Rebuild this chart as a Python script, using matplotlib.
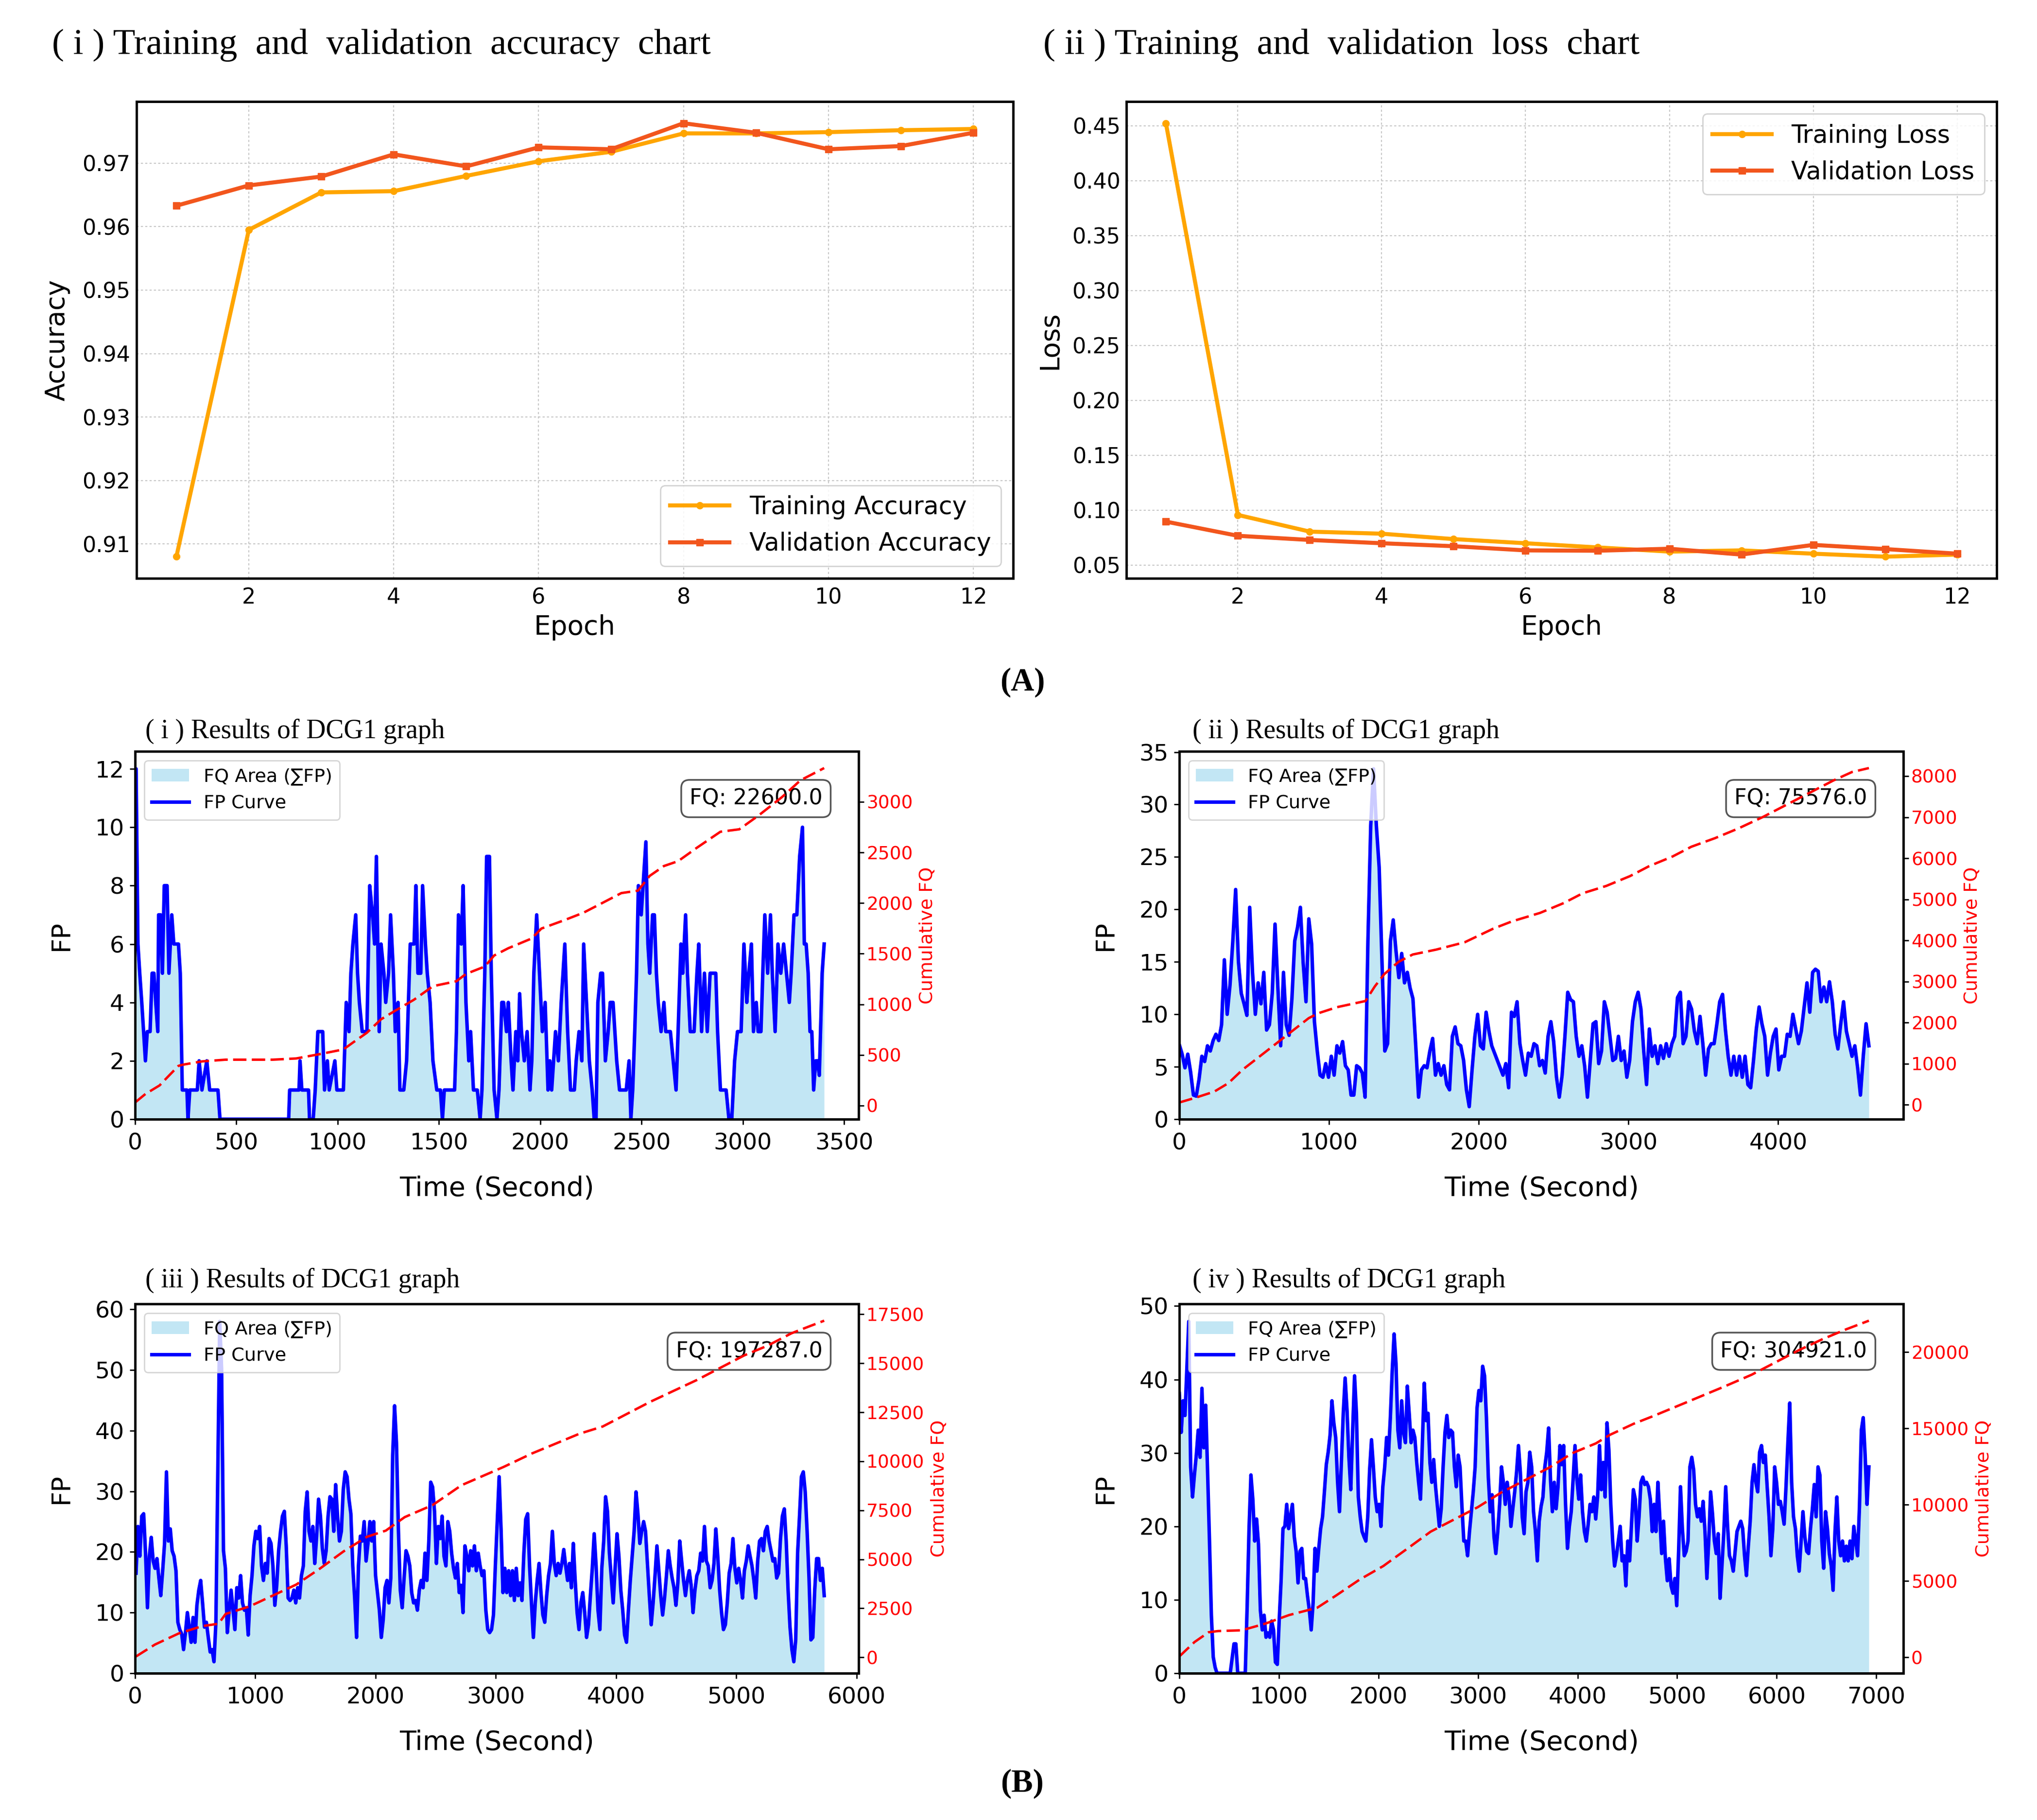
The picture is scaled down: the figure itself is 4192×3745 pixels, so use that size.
import numpy as np
import matplotlib
matplotlib.use('Agg')
import matplotlib.pyplot as plt

# ---------------- data ----------------
epochs = list(range(1, 13))
train_acc = [0.908, 0.9595, 0.9654, 0.9656, 0.968, 0.9703, 0.9718, 0.9747, 0.9747, 0.9749, 0.9752, 0.9754]
val_acc = [0.9633, 0.9665, 0.9679, 0.9714, 0.9695, 0.9725, 0.9722, 0.9763, 0.9748, 0.9722, 0.9727, 0.9748]
train_loss = [0.4523, 0.0956, 0.0804, 0.0785, 0.0736, 0.0698, 0.066, 0.0622, 0.0633, 0.0603, 0.0576, 0.0595]
val_loss = [0.0895, 0.0766, 0.0728, 0.0698, 0.0671, 0.0633, 0.063, 0.0648, 0.0595, 0.0683, 0.0645, 0.0603]

# Panel (i): FP samples (time s, FP)
fp1_pairs = [(0,12),(5,12),(14,6),(23,5),(33,4),(42,3),(51,2),(60,3),(74,3),(84,5),(93,5),(102,4),(112,3),(116,7),
 (126,7),(135,5),(144,8),(158,8),(167,5),(181,7),(191,6),(214,6),(223,5),(233,1),(256,1),(261,0),(270,1),(307,1),
 (316,2),(330,1),(354,2),(368,1),(409,1),(419,0),(758,0),(763,1),(809,1),(814,2),(823,1),(856,1),(861,0),(879,0),
 (889,1),(902,3),(926,3),(935,1),(949,2),(958,1),(986,2),(996,1),(1028,1),(1042,4),(1056,3),(1065,5),(1075,6),
 (1089,7),(1098,5),(1107,4),(1121,3),(1135,3),(1144,3),(1158,8),(1172,7),(1182,6),(1191,9),(1205,3),(1214,6),
 (1228,5),(1237,4),(1251,5),(1261,7),(1275,5),(1284,3),(1298,4),(1307,1),(1326,1),(1340,2),(1358,6),(1377,6),
 (1386,8),(1396,5),(1410,5),(1419,8),(1433,6),(1442,5),(1456,4),(1470,2),(1489,1),(1507,1),(1517,0),(1526,1),
 (1544,1),(1563,1),(1577,1),(1586,3),(1596,7),(1610,6),(1619,8),(1633,4),(1647,2),(1656,3),(1670,1),(1689,1),
 (1703,0),(1712,1),(1726,5),(1735,9),(1749,9),(1758,5),(1772,1),(1786,0),(1796,1),(1810,4),(1819,4),(1833,3),
 (1842,4),(1856,2),(1865,1),(1879,3),(1889,2),(1898,4.3),(1907,3),(1921,2),(1935,3),(1949,1),(1958,2),(1968,5),
 (1982,7),(1996,5),(2010,3),(2024,4),(2038,1),(2047,2),(2056,1),(2075,3),(2089,2),(2103,4),(2112,5),(2121,6),
 (2135,3),(2149,1),(2168,1),(2177,2),(2191,3),(2205,2),(2214,6),(2228,4),(2242,2),(2256,1),(2266,0),(2275,0),
 (2284,4),(2298,5),(2307,5),(2321,2),(2335,3),(2345,4),(2359,4),(2368,3),(2377,2),(2391,1),(2410,1),(2424,1),
 (2438,2),(2447,0),(2456,1),(2466,3),(2475,5),(2484,8),(2498,7),(2507,8),(2521,9.5),(2531,6),(2540,5),(2554,7),
 (2563,7),(2573,5),(2582,4),(2596,3),(2610,4),(2619,3),(2628,3),(2642,3),(2656,2),(2670,1),(2680,3),(2694,6),
 (2703,5),(2717,7),(2726,5),(2740,3),(2749,3),(2759,3),(2773,5),(2782,6),(2796,3),(2810,5),(2824,3),(2838,5),
 (2852,5),(2866,5),(2875,3),(2889,1),(2903,1),(2917,1),(2931,0),(2945,0),(2959,2),(2973,3),(2991,3),(3005,6),
 (3019,4),(3029,5),(3042,6),(3052,3),(3066,4),(3075,3),(3089,3),(3098,5),(3108,7),(3122,5),(3136,7),(3145,5),
 (3159,3),(3173,6),(3187,5),(3201,6),(3215,5),(3229,4),(3238,5),(3252,7),(3266,7),(3280,9),(3294,10),(3303,6),
 (3312,6),(3322,5),(3331,3),(3340,3),(3349,1),(3359,2),(3368,2),(3377,1.5),(3391,5),(3401,6)]
cum1_t = [0,51,121,167,214,237,330,447,679,795,912,1028,1075,1144,1214,1284,1377,1470,1586,1633,1726,1772,1842,
          1958,2005,2121,2214,2307,2400,2482,2540,2610,2680,2773,2889,2982,3075,3191,3284,3401]
cum1_v = [30,114,199,295,392,404,436,453,453,465,508,554,622,719,852,937,1046,1179,1228,1300,1373,1482,1554,
          1651,1748,1833,1906,2002,2099,2123,2269,2366,2414,2547,2705,2729,2862,3044,3213,3334]

# Panel (ii): FP sampled uniformly from 0 to 4606 s
fp2_end = 4606
fp2 = [7.1, 6.2, 4.9, 6.2, 4.5, 2.3, 2.2, 3.8, 6.0, 5.5, 7.0, 6.5, 7.5, 8.1, 7.5, 9.0, 15.2, 10.0, 12.8, 17.0,
       21.9, 15.0, 12.0, 11.0, 9.9, 20.2, 14.0, 10.0, 13.0, 11.0, 14.0, 8.5, 9.0, 12.0, 18.6, 12.6, 7.0, 14.0,
       9.0, 8.0, 11.5, 17.0, 18.3, 20.2, 14.9, 11.2,
       19.1, 16.7, 9.3, 6.5, 4.2, 4.0, 5.3, 4.0, 6.0, 4.2, 7.0, 6.3, 7.4, 5.1, 4.7, 2.3, 2.3, 5.1, 4.9, 4.4,
       2.1, 17.0, 28.0, 33.4, 28.0, 24.0, 15.0, 6.5, 7.2, 17.0, 19.0, 16.0, 13.5, 15.8, 13.0, 14.0, 12.5, 11.5, 7.0,
       2.1, 4.7, 5.1, 4.9, 6.5, 7.7, 4.2, 5.3, 4.2, 5.1, 3.3, 2.8, 7.9, 8.8, 7.2, 7.0, 5.6, 2.8, 1.2, 4.7, 7.9,
       10.0, 7.0, 6.7, 10.2, 8.4, 7.0, 6.3, 5.6, 4.9, 4.2, 5.3, 3.0, 10.2, 9.8, 11.2, 7.2, 5.6, 4.2, 6.3, 6.0,
       7.2, 7.0, 5.1, 5.6, 4.4, 7.9, 9.3, 7.4, 4.0, 2.1, 4.2, 7.9, 12.1, 11.4, 11.2, 7.9, 6.0, 7.0, 5.1, 2.1,
       5.6, 9.1, 9.3, 5.3, 6.5, 11.2, 10.2, 7.9, 5.6, 5.8, 7.9, 5.6, 6.5, 4.0, 5.6, 9.3, 11.2, 12.1, 10.5, 6.5,
       3.3, 8.6, 6.0, 7.0, 5.3, 7.0, 5.8, 7.2, 6.0, 7.2, 7.9, 11.6, 12.1, 7.2, 7.9, 11.2, 10.5, 8.4, 7.2, 9.8,
       7.2, 4.2, 6.7, 7.2, 7.2, 9.1, 11.2, 11.9, 8.6, 6.0, 4.2, 6.0, 4.2, 6.0, 4.0, 6.0, 3.3, 3.0, 5.6, 8.6,
       10.7, 9.1, 7.9, 4.2, 6.3, 7.9, 8.6, 4.7, 6.0, 6.0, 8.1, 7.9, 10.0, 8.6, 7.2, 8.4, 10.7, 13.0, 10.2, 14.0,
       14.3, 14.1, 11.2, 12.6, 11.2, 13.1, 11.2, 8.1, 6.7, 9.1, 11.2, 8.4, 7.2, 6.0, 7.0, 4.9, 2.3, 6.0, 9.1, 7.0]
cum2_t = [0,107,233,328,423,581,738,864,928,1054,1243,1306,1369,1464,1559,1716,1906,2095,2221,2410,2568,2694,
          2852,3010,3136,3294,3420,3578,3735,3893,4051,4209,4367,4493,4606]
cum2_v = [58,173,322,530,858,1305,1752,2110,2229,2378,2527,2884,3182,3480,3659,3778,3957,4285,4464,4672,4911,
          5149,5328,5566,5805,6043,6281,6490,6728,6996,7294,7592,7890,8099,8196]

# Panel (iii): FP sampled uniformly from 8 to 5731 s
fp3_start, fp3_end = 8, 5731
fp3 = [16.5, 24.2, 19.3, 25.9, 26.3, 19.8, 10.8, 19.3, 22.4, 18.5, 17.3, 18.9, 15.7, 12.8, 16.9, 21.4, 33.2, 21.8,
       23.8, 20.2, 19.3, 16.9, 8.4, 7.2, 6.5, 3.9, 6.7, 10.0, 7.6, 5.1, 9.2, 5.1, 11.2, 13.7, 15.3, 11.6, 7.6, 8.4,
       5.9, 3.5, 3.9, 1.9, 8.4, 33.2, 58.0, 50.2, 20.2, 17.3, 6.7, 10.4, 13.7, 10.4, 7.2, 14.1, 12.4, 16.1, 11.6,
       10.4, 10.8, 6.3, 12.8, 16.1, 21.0, 23.4, 22.2, 24.2, 17.7, 15.3, 18.1, 16.5, 22.2, 21.4, 17.7, 11.2, 14.5,
       20.2, 23.4, 25.9, 26.7, 21.0, 12.4, 12.0, 12.4, 13.7, 11.6, 14.1, 12.4, 16.1, 17.7, 26.7, 29.9, 23.4, 21.8,
       24.2, 18.1, 22.6, 28.7, 25.9, 20.6, 18.1, 20.2, 25.9, 29.1, 28.7, 23.4, 31.1, 25.9, 21.8, 23.4, 30.3, 33.2,
       32.4, 28.7, 26.3, 17.7, 12.4, 5.9, 17.7, 22.6, 21.8, 25.0, 18.5, 21.4, 25.0, 21.8, 25.0, 16.1, 13.3, 10.4,
       5.9, 8.8, 14.1, 15.3, 11.6, 15.7, 36.0, 44.1, 38.0, 23.8, 13.7, 10.8, 15.7, 20.2, 19.3, 17.7, 13.3, 11.6,
       12.0, 10.4, 13.7, 15.3, 14.1, 19.8, 15.3, 21.8, 31.5, 30.7, 26.7, 18.1, 24.2, 22.2, 25.9, 19.3, 17.7, 25.0,
       23.4, 19.8, 17.3, 15.7, 18.1, 13.3, 14.5, 10.0, 21.0, 19.3, 16.9, 20.2, 17.7, 21.0, 16.9, 19.8, 17.7, 16.1,
       16.9, 10.4, 7.2, 6.7, 7.2, 9.6, 17.7, 25.0, 32.4, 23.8, 13.3, 17.3, 13.3, 16.9, 12.8, 16.9, 12.0, 17.3, 12.8,
       14.9, 12.0, 19.8, 25.4, 26.3, 17.7, 11.6, 5.9, 11.6, 15.3, 18.1, 13.3, 9.6, 8.4, 12.8, 16.1, 18.1, 23.4,
       18.1, 16.1, 18.1, 16.5, 18.1, 20.4, 17.7, 15.3, 18.1, 14.1, 21.4, 15.3, 10.0, 7.2, 11.6, 13.3, 10.0, 5.9,
       8.0, 12.8, 17.3, 23.0, 17.7, 10.4, 7.2, 17.3, 21.8, 29.1, 26.7, 19.8, 15.7, 11.6, 17.3, 23.0, 19.3, 13.7,
       10.4, 6.3, 5.1, 10.4, 15.3, 19.3, 23.4, 29.9, 26.3, 21.4, 23.4, 25.0, 23.4, 18.1, 12.8, 8.0, 11.6, 16.1,
       21.0, 16.9, 12.8, 9.6, 12.4, 16.1, 20.2, 17.7, 15.7, 14.1, 11.2, 14.9, 21.8, 18.5, 15.3, 12.8, 15.3, 16.9,
       14.5, 10.0, 13.7, 16.1, 16.9, 19.8, 18.5, 24.2, 18.5, 17.7, 14.1, 15.3, 18.1, 23.8, 19.3, 13.7, 10.0, 7.2,
       8.0, 11.6, 16.5, 18.1, 22.2, 17.3, 14.9, 17.3, 15.3, 12.4, 16.9, 18.5, 21.0, 19.3, 17.7, 15.3, 12.4, 18.5,
       21.8, 22.2, 20.2, 23.4, 24.2, 21.8, 20.2, 18.5, 18.9, 15.7, 16.5, 22.2, 25.9, 27.1, 21.8, 13.7, 7.6, 3.9,
       1.9, 5.5, 19.8, 25.9, 32.4, 33.2, 29.9, 23.4, 15.7, 5.5, 5.9, 13.7, 18.9, 18.9, 15.3, 17.3, 12.8]
cum3_t = [8,165,361,557,694,753,949,1145,1341,1537,1733,1929,2085,2242,2477,2713,2948,3065,3301,3497,3693,3889,
          4085,4281,4477,4673,4869,5065,5261,5457,5614,5731]
cum3_v = [44,650,1213,1588,1713,2213,2588,3150,3713,4525,5400,6150,6463,7150,7775,8775,9400,9713,10400,10900,
          11400,11775,12400,13025,13588,14150,14775,15400,15900,16525,16900,17173]

# Panel (iv): FP sampled uniformly from 0 to 6926 s
fp4_end = 6926
fp4 = [38.1, 32.8, 37.1, 35.1, 41.5, 47.9, 28.1, 24.0, 27.0, 29.7, 33.1, 29.4, 38.8, 30.7, 36.5, 27.4, 18.0, 7.9,
       2.2, 0.8, 0, 0, 0, 0, 0, 0, 0, 0, 2.0, 4.0, 4.0, 0, 0, 0, 0, 0, 9.2, 19.7, 27.0, 23.7, 18.0, 21.0, 17.6,
       8.6, 5.9, 7.9, 4.9, 5.5, 4.9, 7.1, 5.9, 1.5, 1.2, 7.2, 12.6, 19.7, 20.0, 23.0, 19.7, 21.3, 23.0, 18.6, 16.6,
       12.3, 16.6, 17.0, 12.9, 12.9, 10.6, 8.6, 5.9, 9.6, 17.0, 13.9, 17.0, 19.7, 21.3, 24.7, 28.4, 30.1, 32.4,
       37.1, 34.1, 32.1, 26.0, 22.0, 28.7, 35.4, 40.2, 35.8, 29.4, 25.0, 33.1, 40.5, 35.4, 24.0, 21.3, 19.3, 18.6,
       18.0, 21.3, 27.7, 31.8, 28.1, 24.0, 22.0, 23.0, 20.0, 25.4, 28.1, 32.1, 29.7, 34.8, 41.2, 46.2, 42.2, 33.1,
       30.7, 37.1, 32.8, 31.4, 39.1, 35.4, 31.4, 33.1, 32.1, 28.7, 26.0, 23.7, 31.4, 39.5, 34.4, 35.4, 28.7, 26.0,
       29.1, 25.4, 22.7, 20.0, 22.4, 28.1, 32.8, 35.1, 32.1, 33.1, 32.8, 28.1, 25.4, 29.7, 28.1, 22.7, 18.0, 18.0,
       16.0, 19.3, 22.0, 24.7, 28.1, 36.1, 38.5, 37.1, 41.8, 40.5, 34.8, 26.7, 22.0, 24.3, 18.6, 16.3, 19.3, 23.0,
       28.1, 26.0, 23.0, 26.0, 24.0, 20.0, 22.4, 24.7, 27.4, 31.0, 27.4, 21.3, 19.0, 24.7, 26.0, 30.1, 28.1, 22.0,
       19.3, 15.3, 20.7, 22.7, 24.0, 28.1, 30.1, 33.4, 26.4, 22.0, 26.0, 22.4, 25.4, 31.0, 28.4, 31.0, 23.0, 17.0,
       20.0, 22.0, 26.4, 31.0, 26.4, 23.7, 27.0, 22.0, 19.3, 18.0, 20.3, 23.0, 22.0, 24.0, 21.0, 24.0, 31.0, 25.0,
       28.7, 24.0, 34.1, 30.4, 23.0, 18.0, 14.6, 16.0, 18.0, 20.0, 15.3, 16.0, 11.9, 18.0, 15.3, 20.3, 25.0, 23.7,
       18.0, 21.3, 26.0, 26.7, 25.7, 26.0, 25.4, 23.7, 19.3, 23.0, 19.3, 26.0, 21.3, 16.3, 20.7, 15.6, 12.6, 15.6,
       11.9, 10.9, 12.9, 9.2, 16.6, 25.4, 19.7, 16.0, 16.6, 18.0, 28.1, 29.4, 27.7, 23.0, 21.3, 22.4, 20.7, 23.4,
       19.3, 12.9, 18.0, 24.7, 21.7, 18.0, 16.3, 19.0, 10.2, 14.6, 19.3, 25.4, 20.0, 16.0, 15.3, 13.9, 16.6, 19.3,
       20.0, 20.7, 19.7, 16.0, 13.3, 17.3, 20.7, 26.0, 28.4, 26.0, 24.7, 30.1, 31.0, 28.7, 29.7, 25.4, 21.3, 16.0,
       19.7, 28.1, 26.0, 23.0, 23.4, 22.0, 20.3, 25.4, 31.4, 36.8, 26.0, 21.3, 19.7, 16.0, 13.9, 18.0, 22.0, 18.6,
       16.6, 16.3, 19.7, 22.4, 25.7, 21.3, 28.1, 27.0, 18.0, 14.3, 22.0, 19.7, 16.3, 14.6, 11.3, 19.3, 24.0, 18.0,
       16.0, 18.0, 15.3, 17.3, 15.3, 18.0, 15.6, 20.0, 18.0, 16.0, 22.7, 33.1, 34.8, 29.7, 23.0, 28.1]
cum4_t = [0,152,294,389,626,863,1101,1385,1575,1812,2049,2287,2524,2761,2998,3235,3520,3710,3947,4184,4327,4564,
          4753,4991,5228,5465,5750,5987,6224,6462,6699,6926]
cum4_v = [55,997,1640,1720,1768,2203,2765,3248,4051,5096,5981,7106,8232,9035,9839,10804,11768,12412,13376,14019,
          14582,15305,15788,16431,17074,17717,18521,19325,20129,20852,21495,22058]

fq_labels = ['FQ: 22600.0', 'FQ: 75576.0', 'FQ: 197287.0', 'FQ: 304921.0']
top_titles = ['( i ) Training  and  validation  accuracy  chart', '( ii ) Training  and  validation  loss  chart']
sub_titles = ['( i ) Results of DCG1 graph', '( ii ) Results of DCG1 graph',
              '( iii ) Results of DCG1 graph', '( iv ) Results of DCG1 graph']

# ---------------- figure ----------------
W, H = 4192, 3745
DPI = 100
plt.rcParams['font.family'] = ['DejaVu Sans']
SERIF = ['Liberation Serif', 'DejaVu Serif']
fig = plt.figure(figsize=(W / DPI, H / DPI), dpi=DPI, facecolor='white')


def add_ax(l, t, r, b):
    return fig.add_axes([l / W, 1 - b / H, (r - l) / W, (b - t) / H])


C_TRAIN = '#FFA500'
C_VAL = '#F2561D'


def top_chart(ax, y1, y2, lab1, lab2, ylabel, loc, ylabelpad):
    ax.plot(epochs, y1, color=C_TRAIN, marker='o', lw=6, ms=10, label=lab1, zorder=3)
    ax.plot(epochs, y2, color=C_VAL, marker='s', lw=6, ms=10, label=lab2, zorder=3)
    ax.grid(True, linestyle=(0, (2, 2)), color='#c8c8c8', lw=1.6)
    ax.set_xlabel('Epoch', fontsize=39.5, labelpad=9)
    ax.set_ylabel(ylabel, fontsize=39.5, labelpad=ylabelpad)
    ax.tick_params(labelsize=32, direction='in', length=0)
    ax.tick_params(axis='x', pad=13)
    ax.tick_params(axis='y', pad=9)
    for s in ax.spines.values():
        s.set_linewidth(3.5)
    leg = ax.legend(loc=loc, fontsize=36.5, fancybox=True, framealpha=0.85, edgecolor='#cccccc',
                    handlelength=2.4)
    leg.get_frame().set_linewidth(2)


ax = add_ax(281, 209, 2085, 1190)
top_chart(ax, train_acc, val_acc, 'Training Accuracy', 'Validation Accuracy', 'Accuracy', 'lower right', 18)
ax = add_ax(2318, 209, 4109, 1190)
top_chart(ax, train_loss, val_loss, 'Training Loss', 'Validation Loss', 'Loss', 'upper right', 14)


def fq_panel(rect, t, fp, ct, cv, fqtext):
    ax = add_ax(*rect)
    ax.fill_between(t, fp, color='skyblue', alpha=0.5, label='FQ Area (\u2211FP)', lw=0)
    ax.plot(t, fp, color='blue', lw=5.2, label='FP Curve')
    ax.set_xlim(left=0)
    ax.set_ylim(bottom=0)
    ax.set_xlabel('Time (Second)', fontsize=40, labelpad=31)
    ax.set_ylabel('FP', fontsize=38, labelpad=32)
    ax.tick_params(labelsize=34, length=8, width=2)
    ax.tick_params(axis='x', pad=11.5)
    ax.tick_params(axis='y', pad=8)
    leg = ax.legend(loc='upper left', fontsize=27.5, fancybox=True, framealpha=0.8, edgecolor='#cccccc')
    leg.get_frame().set_linewidth(2)
    ax.text(0.95, 0.9, fqtext, transform=ax.transAxes, ha='right', va='top', fontsize=32,
            bbox=dict(boxstyle='round,pad=0.38', fc='white', ec='#555555', lw=2.5))
    ax2 = ax.twinx()
    ax2.plot(ct, cv, color='red', linestyle=(0, (5.5, 2.2)), lw=3.6)
    ax2.set_ylabel('Cumulative FQ', color='red', fontsize=27.5, labelpad=9)
    ax2.tick_params(axis='y', labelcolor='red', labelsize=27, length=8, width=2)
    for a in (ax, ax2):
        for s in a.spines.values():
            s.set_linewidth(3.5)
    return ax


t1, v1 = zip(*fp1_pairs)
fq_panel((278, 1546, 1767, 2303), t1, v1, cum1_t, cum1_v, fq_labels[0])
fq_panel((2427, 1546, 3917, 2303), np.linspace(0, fp2_end, len(fp2)), fp2, cum2_t, cum2_v, fq_labels[1])
fq_panel((278, 2683, 1767, 3443), np.linspace(fp3_start, fp3_end, len(fp3)), fp3, cum3_t, cum3_v, fq_labels[2])
fq_panel((2427, 2683, 3917, 3443), np.linspace(0, fp4_end, len(fp4)), fp4, cum4_t, cum4_v, fq_labels[3])

# titles
fig.text(107 / W, 1 - 93 / H, top_titles[0], fontsize=54, family=SERIF, va='center', ha='left')
fig.text(2147 / W, 1 - 93 / H, top_titles[1], fontsize=54, family=SERIF, va='center', ha='left')
fig.text(299 / W, 1 - 1505 / H, sub_titles[0], fontsize=40, family=SERIF, va='center', ha='left')
fig.text(2454 / W, 1 - 1505 / H, sub_titles[1], fontsize=40, family=SERIF, va='center', ha='left')
fig.text(299 / W, 1 - 2635 / H, sub_titles[2], fontsize=40, family=SERIF, va='center', ha='left')
fig.text(2454 / W, 1 - 2635 / H, sub_titles[3], fontsize=40, family=SERIF, va='center', ha='left')
fig.text(2104 / W, 1 - 1404 / H, '(A)', fontsize=48, family=SERIF, weight='bold', va='center', ha='center')
fig.text(2104 / W, 1 - 3670 / H, '(B)', fontsize=48, family=SERIF, weight='bold', va='center', ha='center')

fig.savefig('out.png', dpi=DPI, facecolor='white')
